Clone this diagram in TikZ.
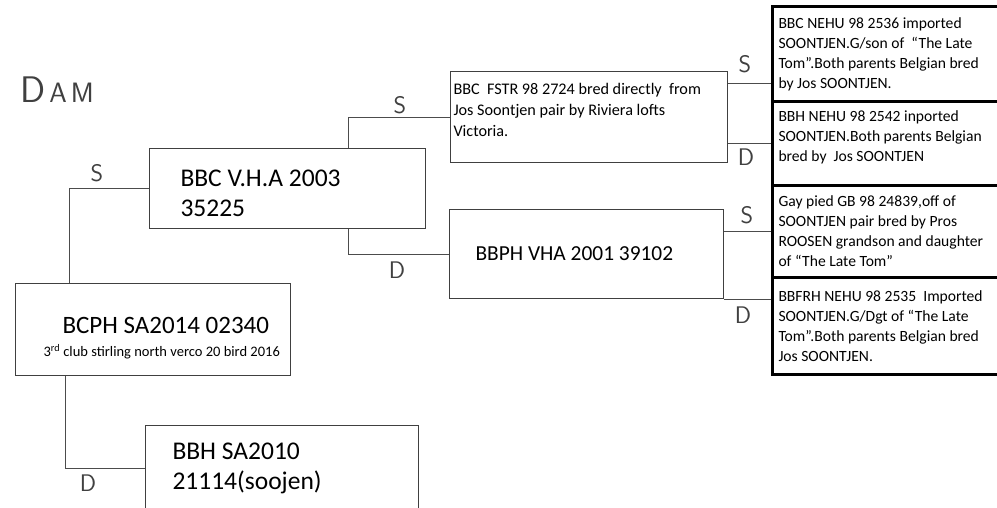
\documentclass[tikz,border=0pt]{standalone}
\usepackage{fontspec}
\setmainfont{Carlito}
\usetikzlibrary{calc}
\begin{document}
\begin{tikzpicture}[x=1pt, y=-1pt,
  pbox/.style={draw=black!75, line width=1pt, anchor=north west, align=flush left, inner ysep=0pt},
  idbox/.style={draw=black, line width=3pt, anchor=north west, align=flush left, inner xsep=6pt, inner ysep=0pt,
    text width=228pt, font=\fontsize{15.6}{20}\selectfont},
  link/.style={draw=black!70, line width=0.9pt},
  sex/.style={font=\sffamily\fontsize{24}{24}\selectfont, text=black!75, inner sep=0pt}]
\useasboundingbox[fill=white] (0,0) rectangle (997,508);

% Dam and its parents
\node[pbox, minimum height=92pt, text width=265pt, inner xsep=5pt,
  font=\fontsize{25}{23}\selectfont] (bcph) at (15,283)
  {{\rule{0pt}{33pt}\hspace*{42pt}BCPH SA2014 02340}\\
   {\fontsize{14.5}{15}\selectfont\hspace*{23pt}3\textsuperscript{rd} club stirling north verco 20 bird 2016}};
\node[pbox, minimum height=80pt, text width=214pt, inner xsep=31pt,
  font=\fontsize{25.5}{30}\selectfont] (vha) at (149,148) {\rule{0pt}{27pt}BBC V.H.A 2003\\35225};
\node[pbox, minimum height=86pt, text width=219pt, inner xsep=27pt,
  font=\fontsize{25.5}{30}\selectfont] (bbh) at (145,425) {BBH SA2010\\21114(soojen)};

% Grandparents
\node[pbox, minimum height=91pt, text width=271pt, inner xsep=3pt,
  font=\fontsize{16.2}{21}\selectfont] (fstr) at (450,71)
  {BBC\ \ FSTR 98 2724 bred directly\ \ from\\Jos Soontjen pair by Riviera lofts\\Victoria.\rule[-14pt]{0pt}{1pt}};
\node[pbox, minimum height=89pt, text width=222pt, inner xsep=26pt,
  font=\fontsize{21.4}{26}\selectfont] (bbph) at (449,209) {BBPH VHA 2001 39102};

% Great-grandparents
\node[idbox, minimum height=95pt] (nehu1) at (771,5)
  {BBC NEHU 98 2536 imported\\SOONTJEN.G/son of\ \ “The Late\\Tom”.Both parents Belgian bred\\by Jos SOONTJEN.};
\node[idbox, minimum height=84pt] (nehu2) at (771,100)
  {BBH NEHU 98 2542 inported\\SOONTJEN.Both parents Belgian\\bred by\ \ Jos SOONTJEN\rule[-14pt]{0pt}{1pt}};
\node[idbox, minimum height=92pt] (gay) at (771,184)
  {Gay pied GB 98 24839,off of\\SOONTJEN pair bred by Pros\\ROOSEN grandson and daughter\\of “The Late Tom”};
\node[idbox, minimum height=97pt] (bbfrh) at (771,276)
  {BBFRH NEHU 98 2535\ \ Imported\\SOONTJEN.G/Dgt of “The Late\\Tom”.Both parents Belgian bred\\Jos SOONTJEN.};

% Connectors
\draw[link] (bcph.north west) ++(54,0) |- (vha.west);
\draw[link] (bcph.south west) ++(50,0) |- (bbh.west);
\draw[link] (vha.north west) ++(199,0) |- (fstr.west);
\draw[link] (vha.south west) ++(199,0) |- (bbph.west);
\coordinate (fs) at ($(fstr.north east)+(0,12)$);
\draw[link] (fs) -- (fs -| nehu1.west);
\draw[link] (fstr.east |- nehu2.west) -- (nehu2.west);
\draw[link] (bbph.east |- gay.west) -- (gay.west);
\draw[link] (bbph.south east) -- (bbph.south east -| bbfrh.west);

% Hand-written labels
\node[sex, anchor=base west] (dam) at (20,103)
  {\fontsize{37}{37}\selectfont D\hspace{4pt}\fontsize{28}{28}\selectfont A\hspace{4pt}M};
\node[sex] (s1) at (97,173) {S};
\node[sex] (d1) at (88,483) {D};
\node[sex] (s2) at (400,105) {S};
\node[sex] (d2) at (397,270) {D};
\node[sex] (s3) at (745,64) {S};
\node[sex] (d3) at (746,157) {D};
\node[sex] (s4) at (747,215) {S};
\node[sex] (d4) at (743,315) {D};
\end{tikzpicture}
\end{document}
